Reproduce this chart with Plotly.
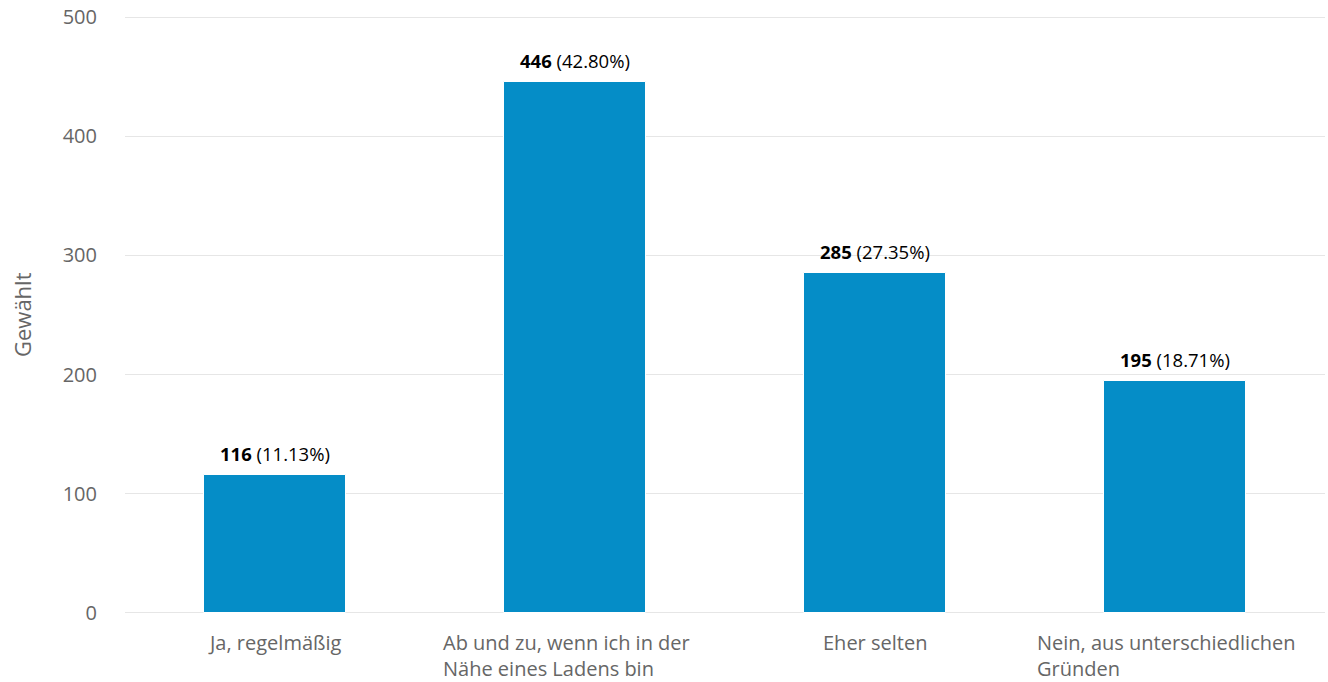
import plotly.graph_objects as go

categories = ["Ja, regelmäßig", "Ab und zu, wenn ich in der<br>Nähe eines Ladens bin",
              "Eher selten", "Nein, aus unterschiedlichen<br>Gründen"]
values = [116, 446, 285, 195]
percents = ["11.13%", "42.80%", "27.35%", "18.71%"]
y_ticks = [0, 100, 200, 300, 400, 500]

FONT = "Open Sans"
GRAY = "#666666"

fig = go.Figure()
fig.add_trace(go.Bar(
    x=list(range(len(categories))), y=values,
    marker=dict(color="#058DC7", line=dict(color="#ffffff", width=1)),
    width=0.475, hoverinfo="skip",
))

annotations = []
for i, (v, p) in enumerate(zip(values, percents)):
    annotations.append(dict(
        x=i, y=v, xref="x", yref="y", yanchor="bottom", xanchor="center",
        yshift=7, showarrow=False,
        text=f"<b>{v}</b> ({p})",
        font=dict(family=FONT, size=18.5, color="#000000"),
    ))
for i, c in enumerate(categories):
    annotations.append(dict(
        x=i, y=0, xref="x", yref="paper", yanchor="top", xanchor="center",
        yshift=-13, xshift=(-9 if "<br>" in c else 0), showarrow=False, align="left",
        text=c,
        font=dict(family=FONT, size=20, color=GRAY),
    ))
annotations.append(dict(
    x=0, xref="paper", xanchor="center", xshift=-103,
    y=0.5, yref="paper", yanchor="middle",
    text="Gewählt", textangle=-90, showarrow=False,
    font=dict(family=FONT, size=22, color=GRAY),
))

fig.update_layout(
    width=1328, height=682,
    margin=dict(l=125, r=3, t=16, b=68),
    paper_bgcolor="white", plot_bgcolor="white",
    font=dict(family=FONT, size=20, color=GRAY),
    showlegend=False,
    bargap=0,
    annotations=annotations,
    xaxis=dict(range=[-0.5, 3.5], showticklabels=False, showgrid=False,
               zeroline=False, showline=False, ticks=""),
    yaxis=dict(range=[-1, 501], tickvals=y_ticks, ticktext=[str(t) for t in y_ticks],
               showgrid=True, gridcolor="#e6e6e6", gridwidth=1,
               zeroline=True, zerolinecolor="#e6e6e6", zerolinewidth=1,
               showline=False, ticks="",
               ticklabelstandoff=27,
               tickfont=dict(family=FONT, size=20, color=GRAY)),
)

fig.write_html("out.html", config={"displayModeBar": False},
               post_script="document.body.style.margin='0';document.body.style.overflow='hidden';")
